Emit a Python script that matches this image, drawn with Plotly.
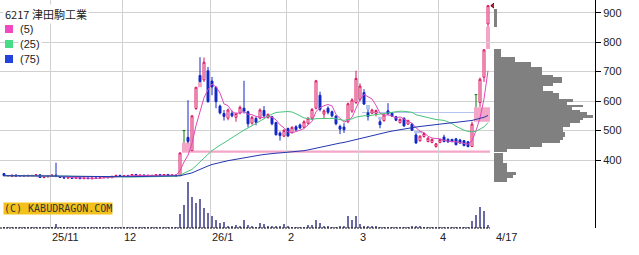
import plotly.graph_objects as go
import pandas as pd
import numpy as np

# ---------------- data ----------------
opens = [354, 347, 344, 349, 345, 347, 346, 348, 348, 350, 341, 343, 346, 349, 344, 341, 339, 340, 338, 340,
         337, 339, 337, 339, 338, 340, 342, 340, 345, 348, 345, 347, 346, 351, 347, 349, 346, 348, 348, 350,
         349, 351, 348, 349, 347, 500, 477, 432, 575, 687, 672, 703, 668, 647, 583, 558, 542, 559, 545, 560,
         576, 564, 525, 541, 542, 568, 545, 547, 527, 492, 481, 507, 493, 513, 519, 511, 525, 542, 576, 620,
         556, 576, 564, 549, 514, 512, 530, 566, 595, 606, 629, 560, 559, 558, 530, 534, 567, 559, 547, 527,
         542, 522, 522, 485, 466, 480, 463, 460, 446, 460, 478, 470, 470, 472, 468, 466, 462, 446, 622, 595,
         681, 862]
highs = [356, 347, 350, 351, 349, 350, 349, 348, 352, 351, 345, 347, 350, 391, 346, 343, 342, 342, 341, 341,
         340, 341, 340, 341, 341, 343, 344, 346, 349, 350, 349, 350, 352, 353, 350, 351, 350, 348, 352, 353,
         352, 353, 351, 350, 426, 500, 603, 552, 647, 749, 748, 716, 682, 650, 588, 570, 575, 568, 562, 585,
         669, 567, 550, 547, 575, 583, 558, 550, 530, 497, 505, 510, 515, 518, 524, 535, 545, 576, 672, 632,
         572, 582, 568, 552, 520, 525, 595, 610, 703, 660, 640, 572, 574, 571, 538, 556, 593, 562, 550, 541,
         545, 537, 525, 491, 484, 494, 478, 473, 458, 472, 486, 474, 472, 474, 472, 468, 464, 530, 622, 680,
         777, 926]
lows = [345, 343, 343, 344, 343, 344, 344, 344, 345, 339, 338, 341, 344, 342, 340, 338, 337, 336, 336, 336,
        335, 336, 334, 336, 336, 338, 339, 339, 343, 344, 343, 344, 345, 346, 345, 345, 344, 344, 346, 347,
        346, 347, 345, 345, 346, 459, 457, 432, 570, 664, 665, 595, 620, 576, 555, 534, 535, 545, 530, 555,
        558, 511, 520, 518, 538, 545, 540, 518, 483, 466, 478, 478, 490, 498, 505, 508, 520, 538, 572, 565,
        540, 555, 545, 518, 488, 492, 525, 560, 590, 600, 587, 534, 556, 548, 508, 530, 552, 546, 532, 524,
        513, 519, 500, 455, 462, 476, 460, 457, 442, 457, 460, 458, 460, 450, 455, 447, 443, 444, 579, 580,
        665, 852]
closes = [347, 347, 349, 345, 347, 346, 348, 348, 350, 341, 343, 346, 349, 344, 341, 339, 340, 338, 340, 337,
          339, 337, 339, 338, 340, 342, 340, 345, 348, 345, 347, 346, 351, 347, 349, 346, 348, 348, 350, 349,
          351, 348, 349, 346, 424, 500, 463, 550, 647, 666, 732, 598, 648, 598, 560, 548, 570, 550, 558, 579,
          565, 523, 545, 528, 570, 550, 555, 523, 486, 483, 501, 482, 511, 503, 509, 530, 542, 572, 669, 572,
          567, 562, 550, 523, 505, 503, 591, 604, 677, 651, 590, 548, 570, 568, 520, 553, 557, 549, 535, 538,
          516, 534, 501, 458, 481, 490, 474, 470, 455, 470, 463, 462, 463, 452, 458, 449, 446, 522, 622, 674,
          774, 924]
volumes = [60, 50, 40, 50, 60, 40, 50, 40, 60, 80, 50, 60, 70, 400, 80, 60, 50, 40, 50, 40,
           40, 50, 40, 50, 40, 50, 40, 60, 50, 40, 50, 40, 60, 50, 40, 50, 40, 40, 50, 40,
           50, 40, 50, 60, 1400, 2300, 4570, 3100, 2550, 2900, 2050, 1550, 1200, 800, 530, 630, 200, 200, 300, 250,
           800, 300, 130, 70, 530, 400, 200, 130, 200, 130, 400, 130, 70, 70, 70, 70, 300, 300, 800, 530,
           200, 130, 70, 70, 200, 200, 1200, 800, 1200, 400, 200, 200, 200, 130, 70, 70, 70, 70, 70, 70,
           70, 70, 200, 200, 130, 60, 60, 50, 60, 50, 60, 50, 60, 50, 60, 50, 60, 670, 1330, 2070,
           1670, 300]

# month starts (trading-day index) and their labels
month_start_idx = [12, 30, 52, 71, 89, 109]
month_labels = ['25/11', '12', '26/1', '2', '3', '4']
last_label = '4/17'

price_ticks = [400, 500, 600, 700, 800, 900]

# unfilled price gaps: start day, end day, low, high, kind
gap_start = [45, 47, 49, 118, 121, 91, 94, 103, 90]
gap_end = [46, 121, 49, 121, 121, 91, 94, 104, 117]
gap_low = [425, 425, 647, 530, 777, 572, 538, 491, 560]
gap_high = [459, 432, 664, 579, 852, 587, 547, 500, 563]
gap_kind = ['up', 'up', 'up', 'up', 'up', 'down', 'down', 'down', 'down']

# volume-by-price profile
profile_lo = [852, 751, 734, 717, 700, 690, 683, 662, 651, 635, 626, 606, 598, 587, 579, 570, 562, 553, 542,
              536, 525, 513, 496, 479, 468, 457, 445, 436, 428, 389, 360, 349, 338, 327]
profile_hi = [912, 776, 751, 734, 717, 700, 690, 683, 662, 651, 635, 626, 606, 598, 587, 579, 570, 562, 553,
              542, 536, 525, 513, 496, 479, 468, 457, 445, 436, 423, 389, 360, 349, 338]
profile_vol = [2.7, 6.7, 21, 36.7, 47.7, 47.7, 59.3, 67.7, 59.3, 49.3, 59.3, 65.3, 79.3, 72.7, 89.3, 77.7, 86,
               92.7, 99.3, 89.3, 86, 76, 69.3, 71, 69.3, 66, 47.7, 36, 12.7, 9.3, 12.7, 22, 19.3, 12.7]

ma_windows = [5, 25, 75]
ma_colors = ['#e048b8', '#48c47c', '#2236b0']
legend_colors = ['#f048c0', '#48dc88', '#2244dc']

# ---------------- figure ----------------
n = len(closes)
idx = list(range(n))
o = np.array(opens, float); h = np.array(highs, float)
l = np.array(lows, float); c = np.array(closes, float)
doji = o == c

W, H = 639, 255
PW, PH = 595, 228  # plot area in pixels
def px(xp):
    return xp / PW
def py(yp):
    return (PH - yp) / PH

fig = go.Figure()

# candles (non-doji)
fig.add_trace(go.Candlestick(
    x=idx,
    open=np.where(doji, np.nan, o), high=np.where(doji, np.nan, h),
    low=np.where(doji, np.nan, l), close=np.where(doji, np.nan, c),
    increasing=dict(line=dict(color='#dc1460', width=1), fillcolor='white'),
    decreasing=dict(line=dict(color='#1428c8', width=1), fillcolor='#1428c8'),
    whiskerwidth=0, showlegend=False, hoverinfo='skip'))

# doji candles drawn in green (T shape)
dx, dy = [], []
for i in idx:
    if doji[i]:
        dx += [i - 0.35, i + 0.35, None, i, i, None]
        dy += [c[i], c[i], None, h[i], l[i], None]
fig.add_trace(go.Scatter(x=dx, y=dy, mode='lines', line=dict(color='#0a7a0a', width=1),
                         showlegend=False, hoverinfo='skip'))

# moving averages
s = pd.Series(c)
for w, col in zip(ma_windows, ma_colors):
    fig.add_trace(go.Scatter(x=idx, y=s.rolling(w, min_periods=1).mean(), mode='lines',
                             line=dict(color=col, width=1), showlegend=False, hoverinfo='skip'))

# volume bars
fig.add_trace(go.Bar(x=idx, y=volumes, yaxis='y2', width=0.35, marker=dict(color='#6a6aa6', line_width=0),
                     showlegend=False, hoverinfo='skip'))

# volume profile
fig.add_trace(go.Bar(
    y=[(a + b) / 2 for a, b in zip(profile_lo, profile_hi)],
    x=profile_vol, width=[b - a for a, b in zip(profile_lo, profile_hi)],
    orientation='h', xaxis='x3', yaxis='y', marker=dict(color='#808080', line_width=0),
    showlegend=False, hoverinfo='skip'))

# last-price marker
fig.add_trace(go.Scatter(x=[n - 1 + 1.7], y=[closes[-1]], mode='markers',
                         marker=dict(symbol='triangle-left', size=8, color='#d01818',
                                     line=dict(color='#600000', width=1)),
                         showlegend=False, hoverinfo='skip'))

shapes = []
for s0, e0, lo, hi, k in zip(gap_start, gap_end, gap_low, gap_high, gap_kind):
    shapes.append(dict(type='rect', xref='x', yref='y', x0=s0 - 0.5, x1=e0 + 0.5, y0=lo, y1=hi,
                       fillcolor='#f4a6c8' if k == 'up' else '#b4c4ee', line_width=0, layer='below'))
# dashed volume baseline
shapes.append(dict(type='line', xref='x', yref='paper', x0=-1, x1=n - 0.5, y0=0, y1=0,
                   line=dict(color='#000000', width=1, dash='2px,1px')))
# legend swatches
for k, col in enumerate(legend_colors):
    yc = 29 + 15 * k
    shapes.append(dict(type='rect', xref='paper', yref='paper', x0=px(5), x1=px(13),
                       y0=py(yc + 4), y1=py(yc - 4), fillcolor=col, line_width=0))

annotations = [dict(text='6217 津田駒工業', xref='paper', yref='paper', x=px(3), y=py(14),
                    xanchor='left', yanchor='middle', showarrow=False, bgcolor='white',
                    font=dict(family='Noto Sans CJK JP', size=11, color='#222'))]
for k, w in enumerate(ma_windows):
    annotations.append(dict(text=f'({w})', xref='paper', yref='paper', x=px(18), y=py(29 + 15 * k),
                            xanchor='left', yanchor='middle', showarrow=False, bgcolor='white',
                            font=dict(family='Liberation Sans', size=11, color='#222')))
annotations.append(dict(text='(C) KABUDRAGON.COM', xref='paper', yref='paper', x=px(3), y=py(208.5),
                        xanchor='left', yanchor='middle', showarrow=False, bgcolor='#f2c21a',
                        borderpad=0,
                        font=dict(family='DejaVu Sans Mono', size=10, color='#333')))
for ms, lab in zip(month_start_idx, month_labels):
    annotations.append(dict(text=lab, xref='x', yref='paper', x=ms - 0.5, y=py(237),
                            xanchor='left', yanchor='middle', showarrow=False,
                            font=dict(family='Liberation Sans', size=11, color='#222')))
annotations.append(dict(text=last_label, xref='x', yref='paper', x=n - 1 + 1.5, y=py(237),
                        xanchor='left', yanchor='middle', showarrow=False,
                        font=dict(family='Liberation Sans', size=11, color='#222')))

ytop = 900 + 12.7 / 0.2947
ybot = 900 - (PH - 12.7) / 0.2947

fig.update_layout(
    width=W, height=H, margin=dict(l=0, r=W - PW, t=0, b=H - PH),
    paper_bgcolor='white', plot_bgcolor='white',
    shapes=shapes, annotations=annotations,
    xaxis=dict(range=[-1, -1 + PW / 4], tickvals=[m - 0.5 for m in month_start_idx],
               showticklabels=False, showgrid=True, gridcolor='#d0d0d0', gridwidth=1,
               zeroline=False, showline=False, ticks='', rangeslider=dict(visible=False), fixedrange=True),
    yaxis=dict(range=[ybot, ytop], side='right', tickvals=price_ticks, showgrid=True,
               gridcolor='#d0d0d0', gridwidth=1, zeroline=False, showline=True, linecolor='#000',
               linewidth=1, ticks='outside', ticklen=5, tickcolor='#000',
               tickfont=dict(family='Liberation Sans', size=11, color='#222')),
    yaxis2=dict(overlaying='y', range=[0, PH * 100], visible=False),
    xaxis3=dict(domain=[494 / PW, 1], range=[0, 101], anchor='y', visible=False),
    showlegend=False, bargap=0,
)

fig.write_html('out.html')
